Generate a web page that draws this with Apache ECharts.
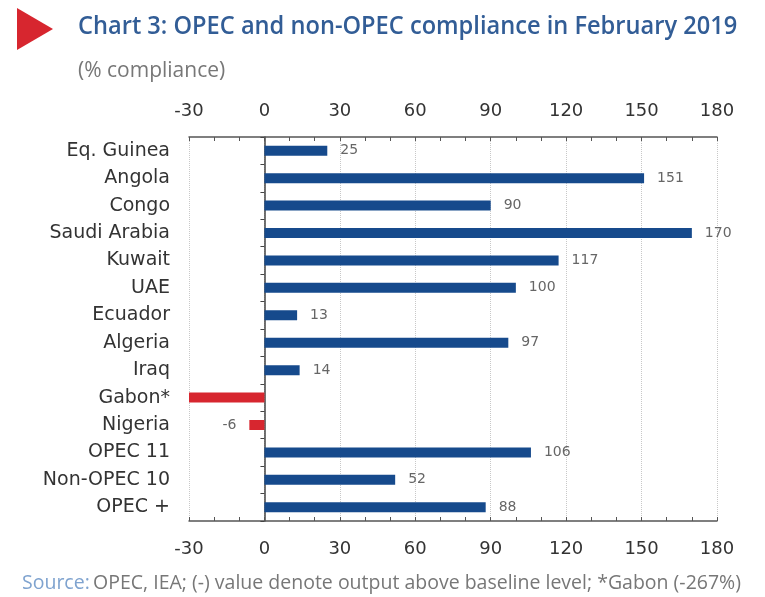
<!DOCTYPE html>
<html>
<head>
<meta charset="utf-8">
<script src="https://cdn.jsdelivr.net/npm/echarts@6/dist/echarts.min.js"></script>
<style>
  html, body { margin: 0; padding: 0; background: #fff; }
  #chart { width: 765px; height: 597px; }
</style>
</head>
<body>
<div id="chart"></div>
<script>
// categories top to bottom
var countries = ["Eq. Guinea", "Angola", "Congo", "Saudi Arabia", "Kuwait", "UAE", "Ecuador",
    "Algeria", "Iraq", "Gabon*", "Nigeria", "OPEC 11", "Non-OPEC 10", "OPEC +"];
// % compliance, Feb 2019
var compliance = [25, 151, 90, 170, 117, 100, 13, 97, 14, -267, -6, 106, 52, 88];
var axisTicks = [-30, 0, 30, 60, 90, 120, 150, 180];

var BLUE = "#164a8c";
var RED = "#d7262f";

var barData = compliance.map(function (v, i) {
    var item = { value: v, itemStyle: { color: v < 0 ? RED : BLUE } };
    if (v < axisTicks[0]) {
        // off the scale (Gabon), value is given in the footnote
        item.label = { show: false };
    } else if (v < 0) {
        item.label = { position: "left" };
    }
    return item;
});

function valueAxis(pos) {
    return {
        type: "value",
        position: pos,
        min: axisTicks[0],
        max: axisTicks[axisTicks.length - 1],
        interval: 30,
        axisLine: { show: true, onZero: false, lineStyle: { color: "#555", width: 1.5 } },
        axisTick: { show: true, inside: true, length: 4, lineStyle: { color: "#555" } },
        minorTick: { show: true, splitNumber: 3, length: 4, lineStyle: { color: "#555" } },
        axisLabel: {
            show: true, margin: pos == "top" ? 17 : 19,
            fontFamily: "DejaVu Sans", fontSize: 18, color: "#333"
        },
        splitLine: { show: pos == "bottom", lineStyle: { type: "dotted", color: "#c8c8c8" } }
    };
}

var chart = echarts.init(document.getElementById("chart"), null, { renderer: "canvas" });
var option = {
    animation: false,
    backgroundColor: "#fff",
    grid: { left: 189, right: 48, top: 137, bottom: 76, containLabel: false },
    xAxis: [valueAxis("bottom"), valueAxis("top")],
    yAxis: [
        {
            type: "category",
            data: countries,
            inverse: true,
            position: "left",
            axisLine: { show: false },
            axisTick: { show: false },
            axisLabel: { margin: 19, fontFamily: "DejaVu Sans", fontSize: 19, color: "#333" }
        },
        {
            // vertical line at zero with its category ticks
            type: "category",
            data: countries,
            inverse: true,
            position: "left",
            axisLine: { show: true, onZero: true, lineStyle: { color: "#444", width: 1.5 } },
            axisTick: { show: true, length: 4, lineStyle: { color: "#444" } },
            axisLabel: { show: false }
        }
    ],
    graphic: [
        { type: "polygon", shape: { points: [[17, 8], [53, 29], [17, 50]] }, style: { fill: RED } },
        {
            type: "text", x: 78, y: 14, scaleX: 0.945,
            style: {
                text: "Chart 3: OPEC and non-OPEC compliance in February 2019",
                font: "600 25px 'Open Sans'", fill: "#325d96"
            }
        },
        {
            type: "text", x: 78, y: 61,
            style: { text: "(% compliance)", font: "21px 'Open Sans'", fill: "#777" }
        },
        {
            type: "text", x: 22, y: 573,
            style: {
                rich: {
                    s: { fontFamily: "Open Sans", fontSize: 19.5, fill: "#7fa3cf" },
                    t: { fontFamily: "Open Sans", fontSize: 19.5, fill: "#777" }
                },
                text: "{s|Source:} {t|OPEC, IEA; (-) value denote output above baseline level; *Gabon (-267%)}"
            }
        }
    ],
    series: [
        {
            type: "bar",
            xAxisIndex: 0,
            yAxisIndex: 0,
            data: barData,
            barWidth: 10,
            clip: true,
            label: {
                show: true, position: "right", distance: 13,
                fontFamily: "DejaVu Sans", fontSize: 14, color: "#666"
            }
        }
    ]
};
chart.setOption(option);
</script>
</body>
</html>
